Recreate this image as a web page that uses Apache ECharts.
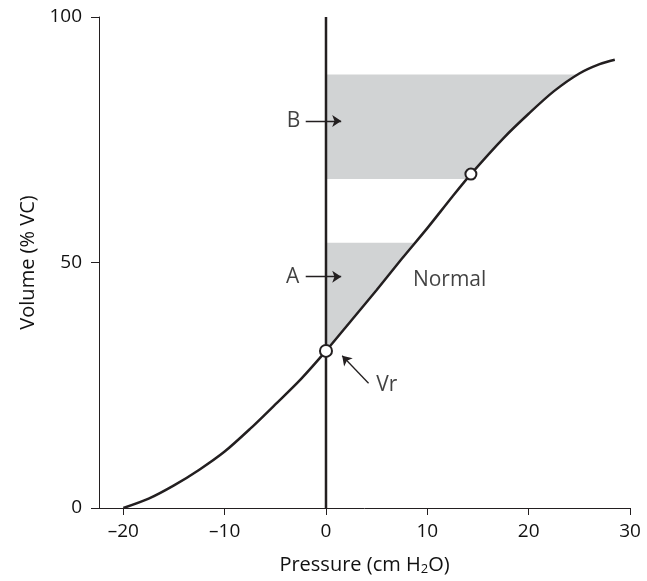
<!DOCTYPE html>
<html>
<head>
  <meta charset="UTF-8">
  <title>Pressure-volume curve</title>
  <script src="https://cdn.jsdelivr.net/npm/echarts/dist/echarts.min.js"></script>
  <style>
    html, body { margin: 0; padding: 0; background: #fff; }
    #main { width: 647px; height: 581px; }
  </style>
</head>
<body>
  <div id="main"></div>

  <script>
    var chartDom = document.getElementById('main');
    var myChart = echarts.init(chartDom);

    // normal pressure-volume curve (pressure, volume %VC)
    var curvePoints = [
      [-20, 0], [-17.5, 1.9], [-15, 4.6], [-12.5, 7.8], [-10, 11.5], [-7.5, 16.1],
      [-5, 21.1], [-2.5, 26.2], [0, 32], [2.5, 38.2], [5, 44.4], [7.5, 50.8],
      [10, 57], [12.5, 63.5], [14.3, 68], [17.5, 75.3], [20, 80.3], [22.5, 84.9],
      [25, 88.5], [27, 90.4], [28.5, 91.3]
    ];
    var bandA = [32, 54];
    var bandB = [67, 88.3];
    var openPoints = [[0, 32], [14.3, 68]];
    var openSizes = [12, 11];
    var arrows = [
      [[-2, 78.8], [1.5, 78.8]],
      [[-2, 47.1], [1.5, 47.1]],
      [[4.2, 25.4], [1.6, 31]]
    ];
    var labelNames = ['B', 'A', 'Vr', 'Normal'];
    var labelPoints = [[-3.2, 78.8], [-3.3, 47.1], [6.0, 25.1], [12.2, 46.4]];
    var xTicks = [-20, -10, 0, 10, 20, 30];
    var xTickLabels = ['\u201320', '\u201310', '0', '10', '20', '30'];

    var ink = '#231f20';
    var textInk = '#111';
    var font = 'Open Sans';

    // polygon between x = 0 and the curve for a volume band
    function band(lo, hi) {
      var pts = [[0, lo]];
      for (var i = 1; i < curvePoints.length; i++) {
        var a = curvePoints[i - 1], b = curvePoints[i];
        if (a[1] < lo && b[1] >= lo) {
          pts.push([a[0] + (b[0] - a[0]) * (lo - a[1]) / (b[1] - a[1]), lo]);
        }
        if (b[1] > lo && b[1] < hi) pts.push(b);
        if (a[1] < hi && b[1] >= hi) {
          pts.push([a[0] + (b[0] - a[0]) * (hi - a[1]) / (b[1] - a[1]), hi]);
        }
      }
      pts.push([0, hi]);
      return pts;
    }

    function shade(pts) {
      return {
        type: 'custom',
        silent: true,
        z: 1,
        renderItem: function (params, api) {
          return {
            type: 'polygon',
            shape: { points: pts.map(function (p) { return api.coord(p); }) },
            style: { fill: '#d1d3d4' }
          };
        },
        data: [[0, 0]]
      };
    }

    var option = {
      backgroundColor: '#fff',
      animation: false,
      grid: { left: 99, right: 17, top: 17, bottom: 70 },
      xAxis: {
        type: 'value',
        min: -22.4,
        max: 30,
        name: '{a|Pressure (cm H}{s|2}{a|O)}',
        nameLocation: 'middle',
        nameGap: 46,
        nameTextStyle: {
          rich: {
            a: { fontFamily: font, fontSize: 20, color: textInk },
            s: { fontFamily: font, fontSize: 13, color: textInk, padding: [9, 0, 0, 0] }
          }
        },
        axisLine: { onZero: false, lineStyle: { color: ink, width: 1 } },
        axisTick: { length: 7, customValues: xTicks, lineStyle: { color: ink } },
        axisLabel: {
          customValues: xTicks,
          margin: 14,
          fontFamily: font,
          fontSize: 19,
          color: textInk,
          formatter: function (v) { return xTickLabels[xTicks.indexOf(v)]; }
        },
        splitLine: { show: false }
      },
      yAxis: {
        type: 'value',
        min: 0,
        max: 100,
        interval: 50,
        name: 'Volume (% VC)',
        nameLocation: 'middle',
        nameGap: 61,
        nameTextStyle: { fontFamily: font, fontSize: 20, color: textInk },
        axisLine: { show: true, onZero: false, lineStyle: { color: ink, width: 1 } },
        axisTick: { show: true, length: 8, lineStyle: { color: ink } },
        axisLabel: { margin: 17, fontFamily: font, fontSize: 19, color: textInk },
        splitLine: { show: false }
      },
      series: [
        shade(band(bandA[0], bandA[1])),
        shade(band(bandB[0], bandB[1])),
        {
          type: 'line',
          data: [[0, 0], [0, 100]],
          symbol: 'none',
          z: 3,
          lineStyle: { color: ink, width: 2.5 }
        },
        {
          type: 'line',
          data: curvePoints,
          smooth: 0.3,
          symbol: 'none',
          z: 3,
          lineStyle: { color: ink, width: 2.5 }
        },
        {
          type: 'lines',
          coordinateSystem: 'cartesian2d',
          symbol: ['none', 'arrow'],
          symbolSize: 9,
          z: 4,
          lineStyle: { color: ink, width: 1.3, opacity: 1 },
          data: arrows.map(function (c) { return { coords: c }; })
        },
        {
          type: 'scatter',
          data: openPoints.map(function (p, i) {
            return { value: p, symbolSize: openSizes[i] };
          }),
          z: 5,
          itemStyle: { color: '#fff', borderColor: ink, borderWidth: 2, opacity: 1 }
        },
        {
          type: 'scatter',
          symbolSize: 0,
          z: 5,
          data: labelPoints.map(function (p, i) { return { name: labelNames[i], value: p }; }),
          label: {
            show: true,
            position: 'inside',
            formatter: '{b}',
            fontFamily: font,
            fontSize: 21,
            color: textInk
          }
        }
      ]
    };

    myChart.setOption(option);
  </script>
</body>
</html>
